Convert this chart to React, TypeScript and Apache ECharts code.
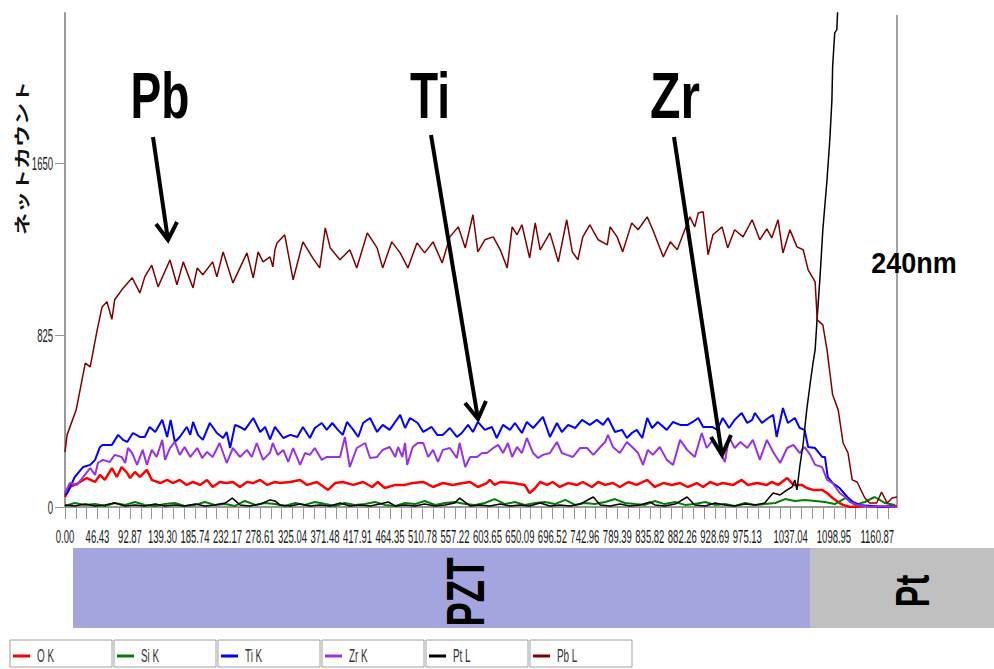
import React, { useEffect, useRef } from "react";
import * as echarts from "echarts";

// ---- data: [distance, net count] ----
const O_K: [number, number][] = [[0,48],[7,96],[19,115],[31,139],[43,120],[50,154],[57,130],[67,187],[74,144],[81,192],[89,163],[93,139],[100,168],[107,144],[117,178],[124,130],[136,115],[146,130],[154,115],[164,130],[174,106],[183,120],[193,106],[203,130],[211,96],[221,120],[231,115],[240,120],[250,96],[260,120],[269,115],[279,130],[289,106],[300,120],[307,115],[322,120],[336,130],[346,106],[360,120],[376,82],[386,115],[397,120],[412,106],[426,120],[439,96],[447,120],[457,91],[472,106],[486,106],[497,115],[512,120],[526,96],[540,115],[554,106],[569,115],[579,120],[590,96],[603,115],[607,130],[614,106],[622,120],[640,115],[657,106],[664,67],[672,91],[679,120],[689,106],[697,120],[707,96],[719,115],[732,106],[740,120],[753,96],[762,120],[772,106],[783,115],[793,96],[805,120],[817,106],[832,130],[843,96],[855,115],[867,106],[879,115],[890,96],[903,115],[912,96],[922,120],[932,106],[940,115],[955,106],[967,130],[976,106],[989,115],[1003,106],[1010,120],[1019,106],[1032,139],[1041,106],[1053,106],[1060,91],[1069,82],[1082,82],[1089,67],[1097,43],[1107,19],[1112,10],[1122,0],[1150,5],[1172,0],[1189,5]];

const SI_K: [number, number][] = [[0,5],[14,19],[29,10],[43,14],[57,5],[71,19],[86,10],[100,24],[114,10],[129,5],[143,14],[157,19],[171,5],[186,10],[200,24],[214,10],[229,14],[243,5],[257,29],[272,10],[286,19],[300,14],[314,5],[329,19],[343,10],[357,24],[372,14],[386,5],[400,19],[414,10],[429,14],[443,24],[457,10],[472,5],[486,19],[500,14],[514,29],[529,10],[543,19],[557,24],[572,14],[586,10],[600,19],[614,38],[629,14],[643,24],[657,10],[672,19],[686,24],[700,14],[715,34],[729,10],[743,19],[757,14],[772,24],[786,38],[800,19],[815,14],[829,10],[843,29],[857,14],[872,24],[886,10],[900,14],[915,24],[929,10],[943,14],[957,5],[972,19],[986,10],[1000,14],[1015,19],[1029,38],[1043,29],[1057,34],[1072,29],[1086,24],[1100,14],[1115,43],[1129,10],[1143,24],[1157,48],[1172,19],[1186,10]];

const TI_K: [number, number][] = [[0,58],[4,72],[14,144],[26,192],[36,202],[43,226],[50,288],[54,298],[67,298],[76,346],[83,322],[89,312],[97,355],[107,336],[114,336],[121,384],[129,360],[139,418],[146,336],[151,418],[157,312],[164,336],[174,384],[179,346],[183,408],[190,346],[197,322],[207,403],[217,355],[226,331],[231,360],[236,283],[243,394],[250,384],[257,370],[269,427],[279,360],[286,384],[293,325],[300,384],[312,331],[322,346],[332,336],[340,384],[350,331],[357,379],[367,403],[374,370],[382,403],[390,370],[397,346],[403,408],[412,370],[419,336],[426,403],[436,427],[446,360],[454,394],[464,370],[479,442],[486,379],[493,427],[504,403],[512,360],[524,384],[532,346],[540,346],[550,379],[560,336],[567,355],[576,394],[583,360],[590,408],[600,370],[610,384],[617,331],[626,394],[636,370],[643,403],[653,355],[660,408],[669,379],[683,432],[693,336],[703,403],[710,360],[719,394],[729,379],[739,418],[750,394],[760,418],[769,394],[776,427],[786,360],[796,370],[803,331],[810,355],[817,370],[825,331],[832,427],[839,379],[847,408],[860,370],[869,408],[879,394],[890,394],[897,408],[905,427],[912,384],[925,384],[932,370],[940,427],[949,379],[957,418],[967,451],[975,403],[982,418],[986,451],[996,403],[1005,427],[1012,442],[1017,336],[1026,475],[1033,403],[1043,427],[1050,379],[1057,370],[1062,288],[1072,283],[1082,240],[1086,240],[1090,144],[1097,115],[1107,91],[1118,48],[1126,24],[1136,10],[1150,5],[1165,0],[1179,5],[1189,0]];

const ZR_K: [number, number][] = [[0,67],[7,115],[17,106],[26,144],[36,187],[43,154],[47,211],[54,226],[64,216],[71,250],[81,240],[86,211],[90,283],[96,259],[103,202],[111,274],[117,202],[124,274],[131,240],[139,322],[143,226],[150,283],[157,312],[164,250],[171,288],[179,240],[189,283],[196,235],[203,264],[211,240],[221,307],[231,211],[240,283],[250,240],[260,274],[267,240],[274,307],[283,226],[293,260],[297,307],[304,250],[312,274],[319,216],[326,283],[336,202],[343,259],[350,250],[357,283],[367,226],[374,240],[386,240],[393,240],[400,336],[407,192],[417,283],[429,307],[436,235],[446,240],[454,274],[464,288],[472,240],[476,288],[482,240],[486,307],[489,202],[497,288],[504,307],[512,307],[519,240],[526,274],[533,216],[540,274],[550,283],[560,235],[564,307],[572,192],[579,240],[589,240],[596,259],[603,259],[612,283],[619,298],[626,259],[633,307],[639,240],[646,288],[653,259],[660,331],[669,259],[676,235],[683,250],[693,259],[703,312],[710,259],[717,250],[726,240],[736,283],[746,283],[755,250],[765,288],[772,312],[776,346],[783,288],[793,259],[803,312],[812,283],[819,259],[826,202],[833,274],[840,250],[850,288],[860,226],[869,202],[879,322],[889,274],[900,240],[910,355],[917,283],[926,322],[933,288],[943,216],[949,336],[957,283],[965,312],[975,283],[983,322],[993,226],[1003,322],[1012,264],[1022,211],[1032,283],[1041,298],[1050,259],[1057,288],[1065,250],[1072,202],[1082,192],[1089,130],[1097,115],[1107,67],[1115,48],[1122,24],[1132,10],[1150,0],[1172,5],[1189,0]];

const PT_L: [number, number][] = [[0,10],[14,5],[29,14],[43,5],[57,10],[71,19],[86,5],[100,10],[114,5],[129,14],[143,5],[157,10],[171,5],[186,14],[200,5],[214,10],[229,19],[239,43],[250,10],[264,5],[279,14],[293,34],[300,29],[307,10],[322,5],[336,14],[350,5],[364,10],[379,5],[393,19],[407,5],[422,10],[436,5],[450,14],[462,24],[472,5],[486,10],[500,5],[514,14],[529,5],[543,10],[557,19],[564,43],[579,5],[593,10],[607,5],[622,14],[636,5],[650,10],[664,5],[679,19],[693,5],[707,10],[722,5],[736,14],[755,48],[765,10],[779,5],[793,14],[807,5],[822,10],[836,24],[843,10],[857,5],[872,14],[889,48],[900,10],[915,5],[929,19],[943,10],[957,5],[972,14],[986,10],[1000,19],[1007,48],[1012,67],[1022,58],[1032,82],[1039,96],[1043,130],[1046,82],[1050,192],[1055,307],[1060,466],[1065,595],[1069,691],[1072,754],[1075,912],[1079,1104],[1083,1330],[1089,1570],[1093,1762],[1096,1954],[1097,2112],[1100,2275],[1103,2290],[1107,2600],[1115,3000]];

const PB_L: [number, number][] = [[0,264],[3,346],[16,466],[29,690],[36,672],[46,850],[53,960],[60,985],[67,900],[71,994],[83,1050],[96,1100],[107,1027],[114,1104],[124,1160],[133,1056],[150,1185],[160,1066],[169,1176],[183,1051],[189,1147],[197,1114],[211,1176],[217,1104],[226,1224],[240,1075],[250,1147],[260,1219],[269,1099],[276,1224],[283,1176],[293,1200],[297,1152],[300,1234],[303,1267],[314,1306],[326,1090],[340,1272],[354,1195],[364,1147],[372,1339],[379,1243],[393,1186],[407,1234],[417,1147],[432,1315],[446,1243],[454,1147],[467,1272],[479,1219],[490,1147],[503,1267],[514,1219],[526,1272],[539,1171],[550,1296],[562,1344],[572,1243],[583,1402],[590,1224],[600,1282],[612,1296],[622,1234],[632,1147],[639,1344],[646,1306],[653,1354],[664,1195],[672,1363],[679,1234],[693,1315],[705,1176],[717,1378],[725,1224],[733,1186],[740,1296],[750,1354],[762,1282],[775,1258],[779,1344],[789,1296],[797,1224],[810,1363],[819,1330],[832,1392],[840,1330],[855,1200],[865,1272],[875,1234],[883,1306],[893,1392],[900,1344],[905,1411],[912,1416],[919,1210],[926,1306],[939,1344],[947,1243],[957,1330],[969,1296],[982,1378],[993,1282],[1003,1334],[1010,1291],[1019,1378],[1026,1219],[1036,1330],[1046,1248],[1055,1234],[1062,1138],[1072,1080],[1075,898],[1083,874],[1089,754],[1097,538],[1105,466],[1112,307],[1119,259],[1125,130],[1132,120],[1143,43],[1150,19],[1160,19],[1167,72],[1175,19],[1182,43],[1189,48]];

const SERIES_NAMES = ["O K", "Si K", "Ti K", "Zr K", "Pt L", "Pb L"];
const SERIES_COLORS = ["#ff0000", "#008000", "#0000ff", "#9932e6", "#000000", "#800000"];
const SERIES_WIDTHS = [2.5, 2, 2, 2, 1.5, 1.5];
const SERIES_DATA = [O_K, SI_K, TI_K, ZR_K, PT_L, PB_L];

const X_LABELS = [0, 46.43, 92.87, 139.3, 185.74, 232.17, 278.61, 325.04, 371.48, 417.91, 464.35, 510.78, 557.22, 603.65, 650.09, 696.52, 742.96, 789.39, 835.82, 882.26, 928.69, 975.13, 1037.04, 1098.95, 1160.87];
const X_TICK_STEP = 15.4783;
const X_TICK_COUNT = 77;
const Y_LABELS = [0, 825, 1650];
const X_MAX = 1189;
const Y_MAX = 2370;

const SANS = "'Liberation Sans', Arial, sans-serif";

function arrow(x1: number, y1: number, x2: number, y2: number, wl: number[], wr: number[]) {
  return [
    { type: "line", shape: { x1, y1, x2, y2 }, style: { stroke: "#000", lineWidth: 4 }, z: 100 },
    { type: "polyline", shape: { points: [wl, [x2, y2], wr] }, style: { stroke: "#000", lineWidth: 4, fill: null, lineJoin: "miter" }, z: 100 },
  ];
}

export default function App() {
  const ref = useRef<HTMLDivElement>(null);
  useEffect(() => {
    if (!ref.current) return;
    const chart = echarts.init(ref.current, undefined, { renderer: "svg" });
    const ticks: number[] = [];
    for (let i = 0; i < X_TICK_COUNT; i++) ticks.push(+(i * X_TICK_STEP).toFixed(2));

    chart.setOption({
      animation: false,
      grid: { left: 65, top: 13, right: 97, bottom: 162, containLabel: false },
      xAxis: {
        type: "value", min: 0, max: X_MAX,
        axisLine: { show: true, lineStyle: { color: "#999", width: 2 } },
        axisTick: { show: true, customValues: ticks, length: 12, lineStyle: { color: "#999", width: 1 } },
        axisLabel: { show: false },
        splitLine: { show: false },
      },
      yAxis: {
        type: "value", min: 0, max: Y_MAX,
        axisLine: { show: true, lineStyle: { color: "#999", width: 2 } },
        axisTick: { show: true, customValues: Y_LABELS, length: 10, lineStyle: { color: "#999", width: 1 } },
        axisLabel: { show: false },
        splitLine: { show: false },
      },
      series: SERIES_DATA.map((d, i) => ({
        name: SERIES_NAMES[i], type: "line", data: d, symbol: "none", showSymbol: false, clip: true,
        lineStyle: { color: SERIES_COLORS[i], width: SERIES_WIDTHS[i] }, itemStyle: { color: SERIES_COLORS[i] },
      })),
    });

    // axis labels: condensed tall text positioned through the axes' own scales
    const labels: any[] = [];
    const yBase = chart.convertToPixel({ yAxisIndex: 0 }, 0) as number;
    X_LABELS.forEach((v) => {
      const px = chart.convertToPixel({ xAxisIndex: 0 }, v) as number;
      labels.push({ type: "text", x: px, y: yBase + 29, scaleX: 0.5, style: { text: v.toFixed(2), fontSize: 19, fontFamily: SANS, fill: "#1a1a1a", align: "center", verticalAlign: "middle" } });
    });
    const xLeft = chart.convertToPixel({ xAxisIndex: 0 }, 0) as number;
    Y_LABELS.forEach((v) => {
      const py = chart.convertToPixel({ yAxisIndex: 0 }, v) as number;
      labels.push({ type: "text", x: xLeft - 12, y: py, scaleX: 0.5, style: { text: String(v), fontSize: 19, fontFamily: SANS, fill: "#1a1a1a", align: "right", verticalAlign: "middle" } });
    });

    const legend: any[] = [];
    SERIES_NAMES.forEach((n, i) => {
      const bx = 10 + i * 104;
      legend.push({ type: "rect", shape: { x: bx, y: 640, width: 102, height: 27 }, style: { fill: "#fff", stroke: "#a0a0a0", lineWidth: 1 } });
      legend.push({ type: "line", shape: { x1: bx + 3, y1: 656, x2: bx + 20, y2: 656 }, style: { stroke: SERIES_COLORS[i], lineWidth: 3 } });
      legend.push({ type: "text", x: bx + 27, y: 656, scaleX: 0.55, style: { text: n, fontSize: 18, fontFamily: SANS, fill: "#333", verticalAlign: "middle", align: "left" } });
    });

    chart.setOption({
      graphic: [
        { type: "line", shape: { x1: 897, y1: 15, x2: 897, y2: 506 }, style: { stroke: "#444", lineWidth: 1 } },
        { type: "text", x: 21, y: 158, rotation: Math.PI / 2, scaleY: 0.7, style: { text: "ネットカウント", fontSize: 22, fontWeight: "bold", fontFamily: "'Noto Sans CJK JP', sans-serif", fill: "#111", align: "center", verticalAlign: "middle" } },
        { type: "text", x: 160, y: 96, scaleX: 0.72, style: { text: "Pb", fontSize: 64, fontWeight: "bold", fontFamily: SANS, fill: "#000", align: "center", verticalAlign: "middle" }, z: 100 },
        { type: "text", x: 430, y: 96, scaleX: 0.72, style: { text: "Ti", fontSize: 64, fontWeight: "bold", fontFamily: SANS, fill: "#000", align: "center", verticalAlign: "middle" }, z: 100 },
        { type: "text", x: 675, y: 96, scaleX: 0.78, style: { text: "Zr", fontSize: 64, fontWeight: "bold", fontFamily: SANS, fill: "#000", align: "center", verticalAlign: "middle" }, z: 100 },
        { type: "text", x: 914, y: 262, scaleX: 0.9, style: { text: "240nm", fontSize: 30, fontWeight: "bold", fontFamily: SANS, fill: "#000", align: "center", verticalAlign: "middle" } },
        ...arrow(153, 137, 168, 240, [156, 224], [177, 222]),
        ...arrow(431, 135, 478, 419, [465, 403], [486, 401]),
        ...arrow(674, 137, 722, 455, [711, 437], [731, 435]),
        { type: "rect", shape: { x: 73, y: 548, width: 737, height: 80 }, style: { fill: "#a4a4de" } },
        { type: "rect", shape: { x: 810, y: 548, width: 184, height: 80 }, style: { fill: "#c0c0c0" } },
        { type: "text", x: 466, y: 592, rotation: Math.PI / 2, scaleX: 0.69, style: { text: "PZT", fontSize: 53, fontWeight: "bold", fontFamily: SANS, fill: "#000", align: "center", verticalAlign: "middle" } },
        { type: "text", x: 912, y: 591, rotation: Math.PI / 2, scaleX: 0.66, style: { text: "Pt", fontSize: 49, fontWeight: "bold", fontFamily: SANS, fill: "#000", align: "center", verticalAlign: "middle" } },
        ...labels,
        ...legend,
      ],
    });
    return () => chart.dispose();
  }, []);
  return <div ref={ref} style={{ position: "fixed", left: 0, top: 0, width: 994, height: 669, background: "#fff" }} />;
}
